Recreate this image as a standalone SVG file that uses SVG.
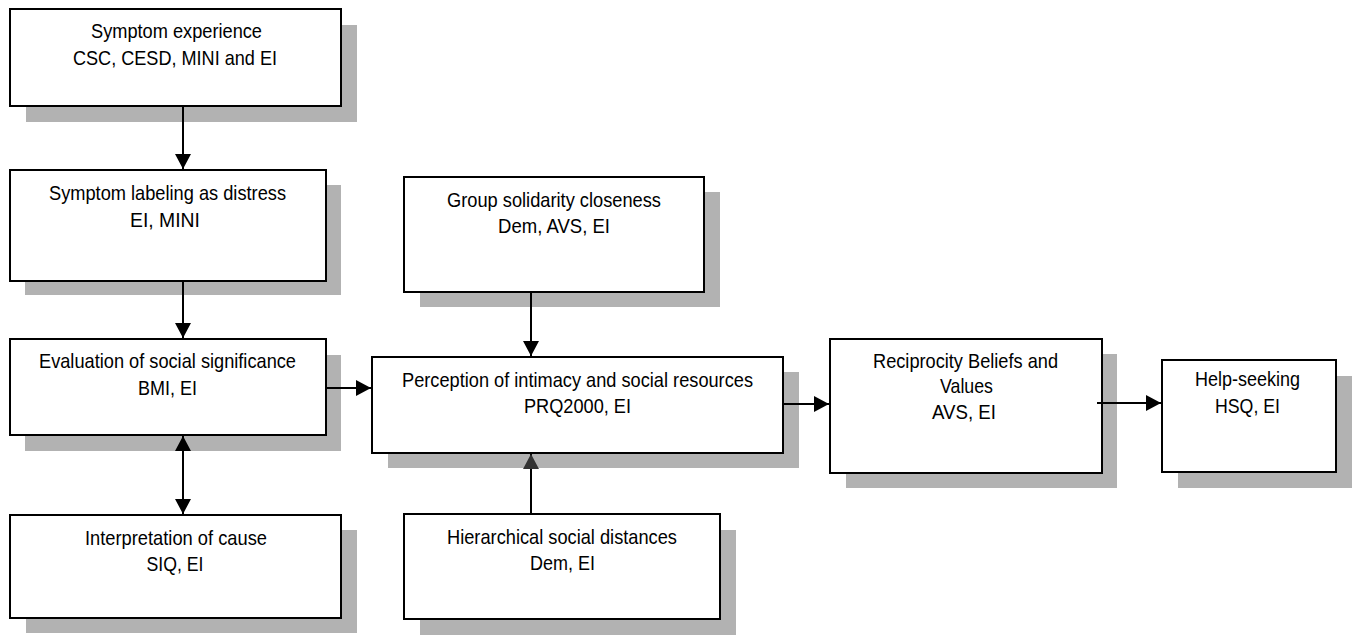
<svg xmlns="http://www.w3.org/2000/svg" width="1355" height="635" viewBox="0 0 1355 635">
<style>
.sh{fill:#b2b2b2;stroke:none}
.bx{fill:#fff;stroke:#000;stroke-width:2}
.t{font-family:"Liberation Sans",Arial,sans-serif;font-size:21px;fill:#000;text-anchor:middle}
.c{stroke:#000;stroke-width:2;fill:none}
</style>
<defs>
<marker id="ah" viewBox="0 0 15 16" refX="15" refY="8" markerWidth="15" markerHeight="16" markerUnits="userSpaceOnUse" orient="auto-start-reverse">
<path d="M0,0 L15,8 L0,16 Z" fill="#000"/>
</marker>
<marker id="ahg" viewBox="0 0 15 16" refX="15" refY="8" markerWidth="15" markerHeight="16" markerUnits="userSpaceOnUse" orient="auto">
<path d="M0,0 L15,8 L0,16 Z" fill="#333"/>
</marker>
</defs>
<rect width="1355" height="635" fill="#fff"/>

<g id="symptom-experience">
<rect class="sh" x="26" y="25" width="331" height="97"/>
<rect class="bx" x="10" y="9" width="331" height="97"/>
<text class="t" x="176.5" y="38" textLength="171" lengthAdjust="spacingAndGlyphs">Symptom experience</text>
<text class="t" x="175" y="65" textLength="204" lengthAdjust="spacingAndGlyphs">CSC, CESD, MINI and EI</text>
</g>

<g id="symptom-labeling">
<rect class="sh" x="25" y="185" width="316" height="110"/>
<rect class="bx" x="10" y="170" width="316" height="111"/>
<text class="t" x="167.5" y="200" textLength="237" lengthAdjust="spacingAndGlyphs">Symptom labeling as distress</text>
<text class="t" x="165" y="227" textLength="70" lengthAdjust="spacingAndGlyphs">EI, MINI</text>
</g>

<g id="evaluation">
<rect class="sh" x="25" y="355" width="316" height="96"/>
<rect class="bx" x="10" y="339" width="316" height="96"/>
<text class="t" x="167.5" y="368" textLength="257" lengthAdjust="spacingAndGlyphs">Evaluation of social significance</text>
<text class="t" x="167.5" y="395" textLength="59" lengthAdjust="spacingAndGlyphs">BMI, EI</text>
</g>

<g id="interpretation">
<rect class="sh" x="26" y="530" width="331" height="103"/>
<rect class="bx" x="10" y="515" width="331" height="103"/>
<text class="t" x="176" y="545" textLength="182" lengthAdjust="spacingAndGlyphs">Interpretation of cause</text>
<text class="t" x="175" y="571" textLength="57" lengthAdjust="spacingAndGlyphs">SIQ, EI</text>
</g>

<g id="group-solidarity">
<rect class="sh" x="420" y="192" width="300" height="115"/>
<rect class="bx" x="404" y="177" width="300" height="115"/>
<text class="t" x="554" y="207" textLength="214" lengthAdjust="spacingAndGlyphs">Group solidarity closeness</text>
<text class="t" x="554" y="233" textLength="112" lengthAdjust="spacingAndGlyphs">Dem, AVS, EI</text>
</g>

<g id="perception">
<rect class="sh" x="388" y="372" width="411" height="96"/>
<rect class="bx" x="372" y="357" width="411" height="96"/>
<text class="t" x="577.5" y="387" textLength="351" lengthAdjust="spacingAndGlyphs">Perception of intimacy and social resources</text>
<text class="t" x="577.5" y="413" textLength="107" lengthAdjust="spacingAndGlyphs">PRQ2000, EI</text>
</g>

<g id="hierarchical">
<rect class="sh" x="420" y="530" width="316" height="105"/>
<rect class="bx" x="404" y="514" width="316" height="105"/>
<text class="t" x="562" y="544" textLength="230" lengthAdjust="spacingAndGlyphs">Hierarchical social distances</text>
<text class="t" x="562.5" y="570" textLength="65" lengthAdjust="spacingAndGlyphs">Dem, EI</text>
</g>

<g id="reciprocity">
<rect class="sh" x="846" y="354" width="271" height="134"/>
<rect class="bx" x="830" y="339" width="272" height="134"/>
<text class="t" x="965.5" y="368" textLength="185" lengthAdjust="spacingAndGlyphs">Reciprocity Beliefs and</text>
<text class="t" x="966.5" y="393" textLength="53" lengthAdjust="spacingAndGlyphs">Values</text>
<text class="t" x="964" y="419" textLength="64" lengthAdjust="spacingAndGlyphs">AVS, EI</text>
</g>

<g id="help-seeking">
<rect class="sh" x="1178" y="376" width="174" height="112"/>
<rect class="bx" x="1162" y="360" width="174" height="112"/>
<text class="t" x="1247.5" y="386" textLength="105" lengthAdjust="spacingAndGlyphs">Help-seeking</text>
<text class="t" x="1247.5" y="413" textLength="65" lengthAdjust="spacingAndGlyphs">HSQ, EI</text>
</g>

<g id="connectors">
<line class="c" x1="183" y1="106" x2="183" y2="169" marker-end="url(#ah)"/>
<line class="c" x1="183" y1="281" x2="183" y2="338" marker-end="url(#ah)"/>
<line class="c" x1="183" y1="436" x2="183" y2="514" marker-start="url(#ah)" marker-end="url(#ah)"/>
<line class="c" x1="326" y1="388" x2="371" y2="388" marker-end="url(#ah)"/>
<line class="c" x1="531" y1="292" x2="531" y2="356" marker-end="url(#ah)"/>
<line class="c" x1="531" y1="514" x2="531" y2="454" marker-end="url(#ahg)"/>
<line class="c" x1="783" y1="404" x2="829" y2="404" marker-end="url(#ah)"/>
<line class="c" x1="1097" y1="403" x2="1161" y2="403" marker-end="url(#ah)"/>
</g>
</svg>
